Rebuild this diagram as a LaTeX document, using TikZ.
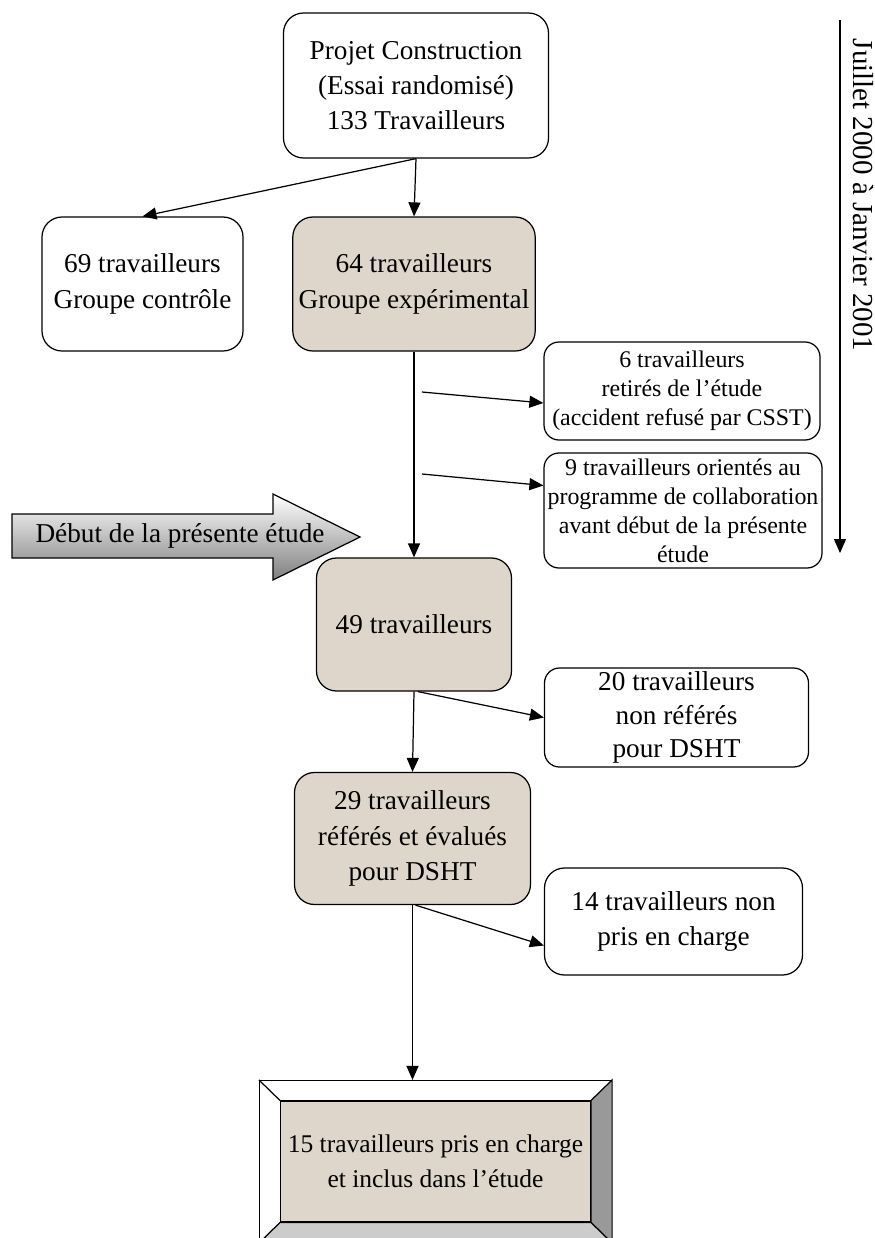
\documentclass[tikz,border=0pt]{standalone}
\usepackage{fontspec}
\setmainfont{Liberation Serif}
\usepackage{tikz}
\usetikzlibrary{positioning,arrows.meta,shapes}
\definecolor{sable}{RGB}{222,214,202}
\tikzstyle{blanc}=[draw, rounded corners=0.4cm, fill=white, align=center, line width=0.7pt, font=\fontsize{15.5}{20}\selectfont]
\tikzstyle{grege}=[blanc, fill=sable]
\tikzstyle{petit}=[draw, rounded corners=0.3cm, fill=white, align=center, line width=0.7pt, inner sep=1pt, font=\fontsize{13.6}{16.5}\selectfont]
\tikzstyle{fl}=[->, line width=0.7pt]

\begin{document}
\begin{tikzpicture}[node distance=2cm,auto,>={Triangle[length=2.8mm,width=2.4mm]}]
\useasboundingbox (0,0) rectangle (17.48,-24.76);

  \node[blanc, minimum width=5.3cm, minimum height=2.9cm] at (8.32,-1.71) (projet) {Projet Construction\\(Essai randomisé)\\133 Travailleurs};
  \node[grege, below of = projet, node distance = 3.97cm, xshift = -0.04cm, minimum width=4.84cm, minimum height=2.68cm] (exp) {64 travailleurs\\Groupe expérimental};
  \node[blanc, left of = exp, node distance = 5.43cm, minimum width=4.02cm, minimum height=2.68cm] (ctrl) {69 travailleurs\\Groupe contrôle};
\draw[fl] (projet.south) -- (exp.north);
\draw[fl] (projet.south) -- (ctrl.north);

% retraits avant le debut
\node[petit, right of = exp, node distance = 5.36cm, yshift = -2.14cm, minimum width=5.52cm, minimum height=1.96cm] (retire) {6 travailleurs\\retirés de l’étude\\(accident refusé par CSST)};
\node[petit, right of = exp, node distance = 5.38cm, yshift = -4.53cm, minimum width=5.56cm, minimum height=2.3cm] (oriente) {9 travailleurs orientés au\\programme de collaboration\\avant début de la présente\\étude};

\node[grege, below of = exp, node distance = 6.81cm, minimum width=3.9cm, minimum height=2.66cm] (n49) {49 travailleurs};
\draw[fl] (exp.south) -- (n49.north);
\coordinate[below of = exp, node distance = 2.16cm, xshift = 0.16cm] (b1);
\coordinate[below of = exp, node distance = 3.8cm, xshift = 0.16cm] (b2);
\draw[fl] (b1) -- ([yshift=-0.24cm]retire.west);
\draw[fl] (b2) -- ([yshift=0.5cm]oriente.west);

% fleche du debut de l'etude
\shade[top color=white, bottom color=black!50, draw, line width=0.7pt] (0.24,-10.28) -- (5.46,-10.28) -- (5.46,-9.88) -- (7.2,-10.74) -- (5.46,-11.6) -- (5.46,-11.16) -- (0.24,-11.16) -- cycle;
\node[font=\fontsize{15.5}{20}\selectfont] at (3.6,-10.72) (debut) {Début de la présente étude};

\node[petit, right of = n49, node distance = 5.25cm, yshift = -1.86cm, minimum width=5.28cm, minimum height=1.98cm, font=\fontsize{15.5}{19}\selectfont] (nonref) {20 travailleurs\\non référés\\pour DSHT};
\node[grege, below of = n49, node distance = 4.28cm, xshift = -0.03cm, minimum width=4.72cm, minimum height=2.64cm] (n29) {29 travailleurs\\référés et évalués\\pour DSHT};
\draw[fl] ([xshift=0.08cm]n49.south) -- (nonref.west);
\draw[fl] (n49.south) -- (n29.north);

\node[blanc, right of = n29, node distance = 5.22cm, yshift = -1.66cm, minimum width=5.16cm, minimum height=2.14cm] (nonpris) {14 travailleurs non\\pris en charge};
\draw[fl] ([xshift=0.06cm]n29.south) -- ([yshift=-0.48cm]nonpris.west);

% cadre biseaute
\node[draw, line width=0.7pt, fill=white, below of = n29, node distance = 6.46cm, xshift = 0.46cm, minimum width=7.04cm, minimum height=3.24cm] (cadre) {};
\node[draw, line width=0.7pt, fill=sable, below of = n29, node distance = 6.46cm, xshift = 0.46cm, minimum width=6.2cm, minimum height=2.42cm, align=center, font=\fontsize{14.5}{20}\selectfont] (final) {15 travailleurs pris en charge\\et inclus dans l’étude};
\filldraw[fill=gray!80, line width=0.7pt] (cadre.north east) -- (cadre.south east) -- (final.south east) -- (final.north east) -- cycle;
\filldraw[fill=gray!40, line width=0.7pt] (cadre.south west) -- (cadre.south east) -- (final.south east) -- (final.south west) -- cycle;
\draw[line width=0.7pt] (cadre.north west) -- (final.north west);
\draw[fl] (n29.south) -- (n29.south |- cadre.north);

% axe du temps
\coordinate (t0) at (16.8,-0.4);
\coordinate (t1) at (16.8,-11.06);
\draw[fl] (t0) -- (t1);
\node[rotate=-90, font=\fontsize{16.5}{20}\selectfont] at (17.26,-3.9) (periode) {Juillet 2000 à Janvier 2001};
\end{tikzpicture}
\end{document}
